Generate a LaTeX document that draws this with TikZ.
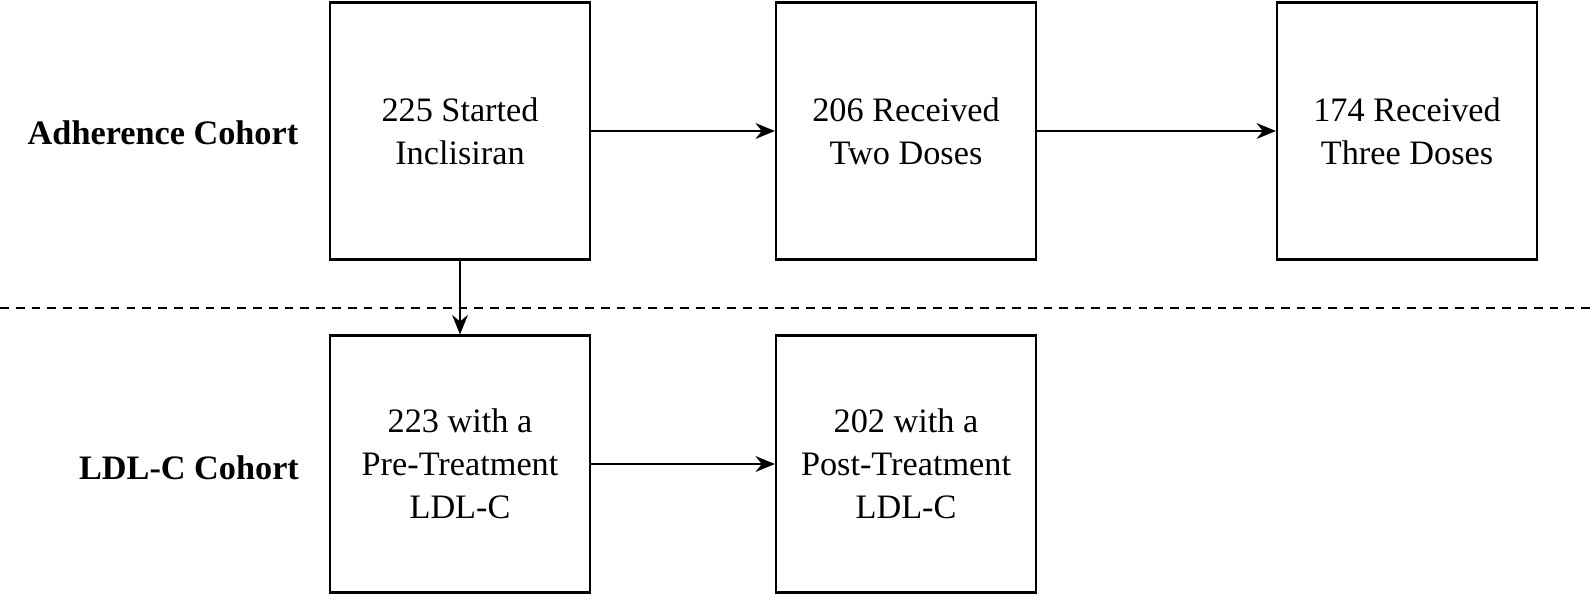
\documentclass[tikz,border=0pt]{standalone}
\usepackage{fontspec}
\setmainfont{Liberation Serif}
\usetikzlibrary{arrows.meta}
\begin{document}
\begin{tikzpicture}[x=0.02cm,y=-0.02cm,
  box/.style={draw,line width=1.3pt,minimum width=5.2cm,minimum height=5.14cm,align=center,font=\fontsize{19.5}{24.5}\selectfont,inner sep=0pt},
  lab/.style={font=\fontsize{19.5}{24}\selectfont\bfseries},
  arr/.style={-{Stealth[length=11pt,width=9pt]},line width=1.1pt}]
\useasboundingbox (0,0) rectangle (1594,609);
\node[box] (a) at (460,131) {225 Started\\Inclisiran};
\node[box] (b) at (906,131) {206 Received\\Two Doses};
\node[box] (c) at (1407,131) {174 Received\\Three Doses};
\node[box] (d) at (460,464) {223 with a\\Pre-Treatment\\LDL-C};
\node[box] (e) at (906,464) {202 with a\\Post-Treatment\\LDL-C};
\node[lab] (l1) at (163,133) {Adherence Cohort};
\node[lab] (l2) at (189,468) {LDL-C Cohort};
\coordinate (dl) at (0,308);
\coordinate (dr) at (1594,308);
\draw[line width=1pt,dash pattern=on 5pt off 4pt] (dl) -- (dr);
\draw[arr] (a) -- (b);
\draw[arr] (b) -- (c);
\draw[arr] (a) -- (d);
\draw[arr] (d) -- (e);
\end{tikzpicture}
\end{document}
